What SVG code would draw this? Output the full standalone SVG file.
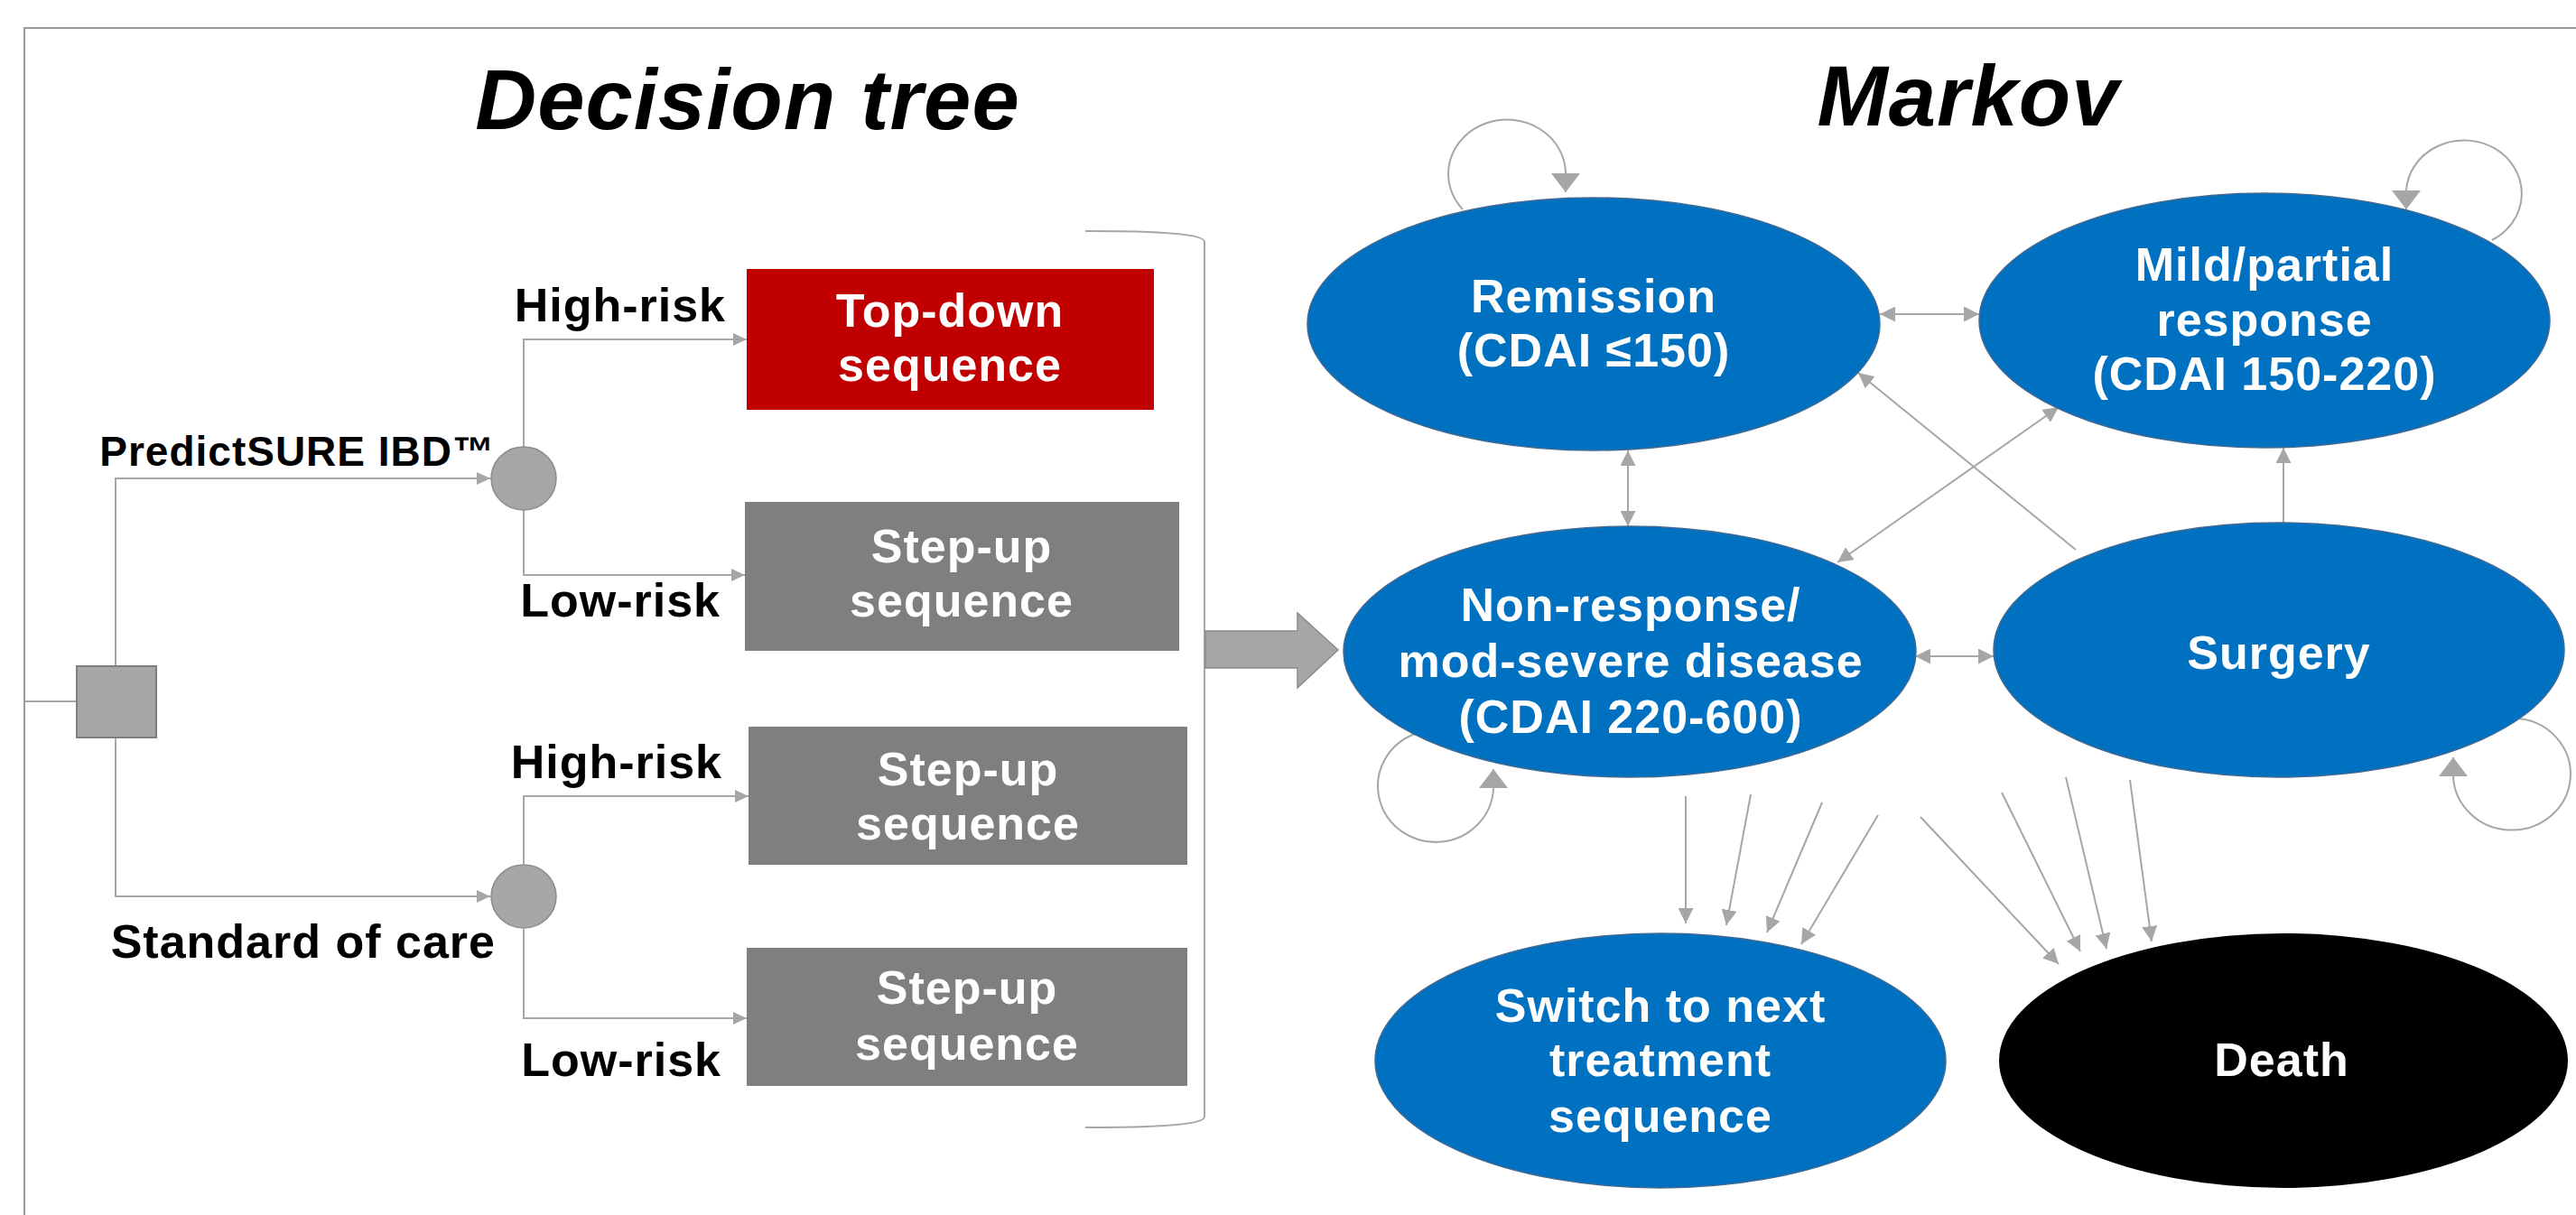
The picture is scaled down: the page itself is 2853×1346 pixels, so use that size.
<svg xmlns="http://www.w3.org/2000/svg" width="2853" height="1346" viewBox="0 0 2853 1346">
<style>
.t { font-family: "Liberation Sans", Arial, sans-serif; font-weight: bold; font-size: 52px; letter-spacing: 1px; fill: #000; }
.end { text-anchor: end; }
.w { fill: #fff; text-anchor: middle; }
.title { font-size: 94px; font-style: italic; text-anchor: middle; }
.small { font-size: 46px; }
.conn { stroke: #A6A6A6; stroke-width: 2; fill: none; }
.state { fill: #0070C0; stroke: #3F6A93; stroke-width: 1.5; }
.chance { fill: #A6A6A6; stroke: #8C8C8C; stroke-width: 1.5; }
</style>
<defs>
<marker id="aS" markerUnits="userSpaceOnUse" markerWidth="15" markerHeight="14" refX="15" refY="7" orient="auto-start-reverse"><path d="M0,0 L15,7 L0,14 z" fill="#A6A6A6"/></marker>
<marker id="aM" markerUnits="userSpaceOnUse" markerWidth="17" markerHeight="17" refX="17" refY="8.5" orient="auto-start-reverse"><path d="M0,0 L17,8.5 L0,17 z" fill="#A6A6A6"/></marker>
<marker id="aL" markerUnits="userSpaceOnUse" markerWidth="21" markerHeight="32" refX="21" refY="16" orient="auto"><path d="M0,0 L21,16 L0,32 z" fill="#A6A6A6"/></marker>
</defs>
<rect width="2853" height="1346" fill="#fff"/>
<path d="M27 1346 V31 H2853" fill="none" stroke="#9A9A9A" stroke-width="2"/>

<text class="t title" x="828" y="143">Decision tree</text>
<text class="t title" x="2180" y="139">Markov</text>

<g id="connectors">
  <path class="conn" d="M27 777 H85"/>
  <path class="conn" d="M128 738 V530 H543" marker-end="url(#aS)"/>
  <path class="conn" d="M128 817 V993 H543" marker-end="url(#aS)"/>
  <path class="conn" d="M580 495 V376 H827" marker-end="url(#aS)"/>
  <path class="conn" d="M580 565 V637 H825" marker-end="url(#aS)"/>
  <path class="conn" d="M580 957 V882 H829" marker-end="url(#aS)"/>
  <path class="conn" d="M580 1029 V1128 H827" marker-end="url(#aS)"/>
  <path class="conn" d="M1202 256 C1285 256 1334 259 1334 268 V1237 C1334 1246 1285 1249 1202 1249"/>
  <polygon points="1335,699 1437,699 1437,679 1482,720 1437,762 1437,740 1335,740" fill="#A6A6A6" stroke="#8C8C8C" stroke-width="1.5"/>

  <path class="conn" d="M2082 348 H2192" marker-start="url(#aM)" marker-end="url(#aM)"/>
  <path class="conn" d="M1803 499 V583" marker-start="url(#aM)" marker-end="url(#aM)"/>
  <path class="conn" d="M2035 623 L2280 451" marker-start="url(#aM)" marker-end="url(#aM)"/>
  <path class="conn" d="M2299 609 L2058 413" marker-end="url(#aM)"/>
  <path class="conn" d="M2529 579 V496" marker-end="url(#aM)"/>
  <path class="conn" d="M2121 727 H2208" marker-start="url(#aM)" marker-end="url(#aM)"/>

  <path class="conn" d="M1867 882 L1867 1023" marker-end="url(#aM)"/>
  <path class="conn" d="M1939 880 L1912 1025" marker-end="url(#aM)"/>
  <path class="conn" d="M2018 889 L1957 1033" marker-end="url(#aM)"/>
  <path class="conn" d="M2080 903 L1995 1046" marker-end="url(#aM)"/>
  <path class="conn" d="M2127 905 L2280 1068" marker-end="url(#aM)"/>
  <path class="conn" d="M2217 878 L2304 1054" marker-end="url(#aM)"/>
  <path class="conn" d="M2288 861 L2333 1051" marker-end="url(#aM)"/>
  <path class="conn" d="M2359 864 L2383 1043" marker-end="url(#aM)"/>

  <path class="conn" d="M1620 232 A65 60 0 1 1 1734 192 L1734 213" marker-end="url(#aL)"/>
  <path class="conn" d="M2760 266 A64 59 0 1 0 2665 211 L2665 232" marker-end="url(#aL)"/>
  <path class="conn" d="M1567 813 A64 62 0 1 0 1654 873 L1654 852" marker-end="url(#aL)"/>
  <path class="conn" d="M2790 796 A65 62 0 1 1 2717 860 L2717 839" marker-end="url(#aL)"/>
</g>

<g id="decision">
  <rect x="85" y="738" width="88" height="79" fill="#A6A6A6" stroke="#7F7F7F" stroke-width="2"/>
</g>
<g id="chance-predictsure">
  <ellipse class="chance" cx="580" cy="530" rx="36" ry="35"/>
  <text class="t small end" x="548" y="516">PredictSURE IBD™</text>
</g>
<g id="chance-soc">
  <ellipse class="chance" cx="580" cy="993" rx="36" ry="35"/>
  <text class="t end" x="549" y="1061">Standard of care</text>
</g>
<g id="labels">
  <text class="t end" x="804" y="356">High-risk</text>
  <text class="t end" x="798" y="683">Low-risk</text>
  <text class="t end" x="800" y="862">High-risk</text>
  <text class="t end" x="799" y="1192">Low-risk</text>
</g>

<g id="box-topdown">
  <rect x="827" y="298" width="451" height="156" fill="#C00000"/>
  <text class="t w" x="1052" y="362">Top-down</text>
  <text class="t w" x="1052" y="422">sequence</text>
</g>
<g id="box-stepup1">
  <rect x="825" y="556" width="481" height="165" fill="#7F7F7F"/>
  <text class="t w" x="1065" y="623">Step-up</text>
  <text class="t w" x="1065" y="683">sequence</text>
</g>
<g id="box-stepup2">
  <rect x="829" y="805" width="486" height="153" fill="#7F7F7F"/>
  <text class="t w" x="1072" y="870">Step-up</text>
  <text class="t w" x="1072" y="930">sequence</text>
</g>
<g id="box-stepup3">
  <rect x="827" y="1050" width="488" height="153" fill="#7F7F7F"/>
  <text class="t w" x="1071" y="1112">Step-up</text>
  <text class="t w" x="1071" y="1174">sequence</text>
</g>

<g id="state-remission">
  <ellipse class="state" cx="1765" cy="359" rx="317" ry="140"/>
  <text class="t w" x="1765" y="346">Remission</text>
  <text class="t w" x="1765" y="406">(CDAI ≤150)</text>
</g>
<g id="state-mild">
  <ellipse class="state" cx="2508" cy="355" rx="316" ry="141"/>
  <text class="t w" x="2508" y="311">Mild/partial</text>
  <text class="t w" x="2508" y="372">response</text>
  <text class="t w" x="2508" y="432">(CDAI 150-220)</text>
</g>
<g id="state-nonresponse">
  <ellipse class="state" cx="1805" cy="722" rx="317" ry="139"/>
  <text class="t w" x="1806" y="688">Non-response/</text>
  <text class="t w" x="1806" y="750">mod-severe disease</text>
  <text class="t w" x="1806" y="812">(CDAI 220-600)</text>
</g>
<g id="state-surgery">
  <ellipse class="state" cx="2524" cy="720" rx="316" ry="141"/>
  <text class="t w" x="2524" y="741">Surgery</text>
</g>
<g id="state-switch">
  <ellipse class="state" cx="1839" cy="1175" rx="316" ry="141"/>
  <text class="t w" x="1839" y="1132">Switch to next</text>
  <text class="t w" x="1839" y="1192">treatment</text>
  <text class="t w" x="1839" y="1254">sequence</text>
</g>
<g id="state-death">
  <ellipse cx="2529" cy="1175" rx="315" ry="141" fill="#000"/>
  <text class="t w" x="2527" y="1192">Death</text>
</g>
</svg>
